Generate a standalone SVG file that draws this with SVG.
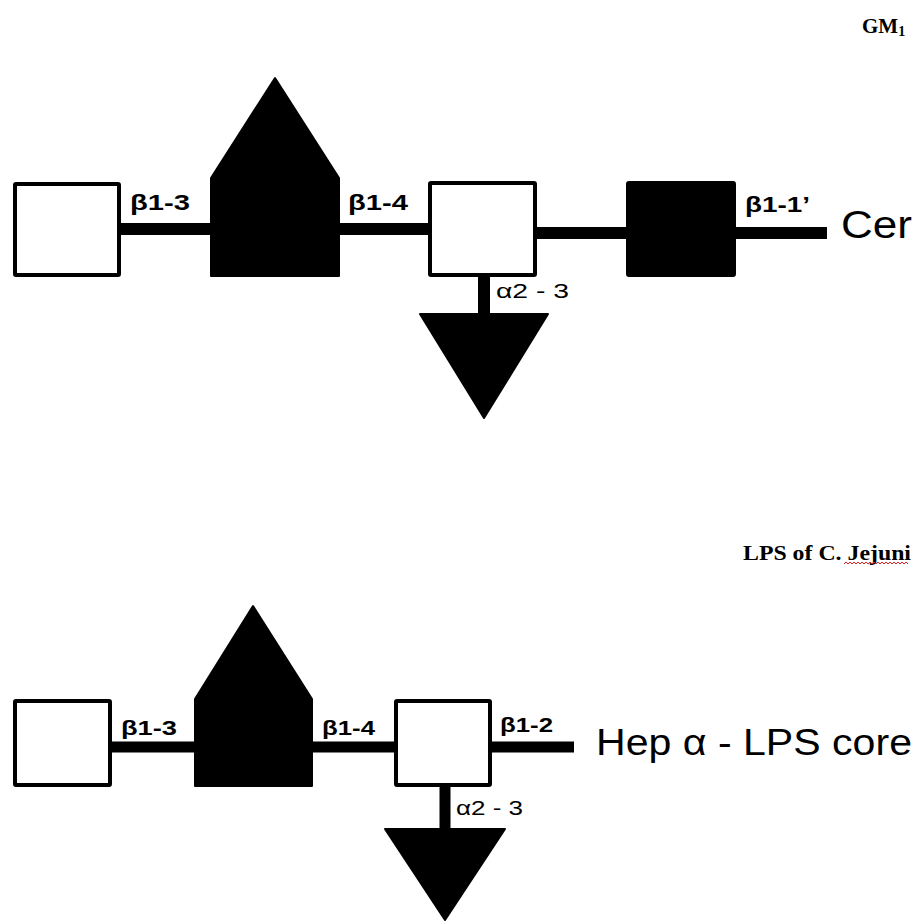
<svg xmlns="http://www.w3.org/2000/svg" width="918" height="922" viewBox="0 0 918 922">
<style>
.w{fill:#fff;stroke:#000;stroke-width:4;stroke-linejoin:round}
.k{fill:#000;stroke:#000;stroke-width:2;stroke-linejoin:round}
.c{stroke:#000;fill:none}
.lb{font-family:"Liberation Sans",Arial,sans-serif;font-weight:bold;fill:#000}
.la{font-family:"Liberation Sans",Arial,sans-serif;fill:#000}
.tt{font-family:"Liberation Serif","Times New Roman",serif;font-weight:bold;fill:#000}
</style>
<rect width="918" height="922" fill="#fff"/>
<g id="connectors">
  <line class="c" stroke-width="12" x1="119" y1="229" x2="212" y2="229"/>
  <line class="c" stroke-width="12" x1="338" y1="229" x2="430" y2="229"/>
  <line class="c" stroke-width="12" x1="535" y1="233" x2="628" y2="233"/>
  <line class="c" stroke-width="12" x1="734" y1="233" x2="827" y2="233"/>
  <line class="c" stroke-width="12" x1="484" y1="275" x2="484" y2="316"/>
  <line class="c" stroke-width="11" x1="110" y1="747" x2="196" y2="747"/>
  <line class="c" stroke-width="11" x1="311" y1="747" x2="396" y2="747"/>
  <line class="c" stroke-width="11" x1="490" y1="747" x2="574" y2="747"/>
  <line class="c" stroke-width="11" x1="445" y1="785" x2="445" y2="830"/>
</g>
<g id="top-title"><text class="tt" x="862" y="33" font-size="21">GM<tspan font-size="14" dy="3">1</tspan></text></g>
<g id="top-sq1"><rect class="w" x="15" y="184" width="104" height="91" rx="1"/></g>
<g id="top-house"><polygon class="k" points="211,178 275,78 339,178 339,276 211,276"/></g>
<g id="top-sq2"><rect class="w" x="430" y="183" width="105" height="92" rx="1"/></g>
<g id="top-blacksq"><rect class="k" x="627" y="182" width="108" height="94" rx="2"/></g>
<g id="top-tri"><polygon class="k" points="420,314 548,314 484,418"/></g>
<g id="top-labels">
  <text class="lb" x="130" y="210" font-size="22" textLength="60" lengthAdjust="spacingAndGlyphs">β1-3</text>
  <text class="lb" x="348" y="210" font-size="22" textLength="60" lengthAdjust="spacingAndGlyphs">β1-4</text>
  <text class="lb" x="745" y="212" font-size="22" textLength="65" lengthAdjust="spacingAndGlyphs">β1-1’</text>
  <text class="la" x="496" y="298" font-size="21" textLength="73" lengthAdjust="spacingAndGlyphs">α2 - 3</text>
  <text class="la" x="841" y="238" font-size="38" textLength="71" lengthAdjust="spacingAndGlyphs">Cer</text>
</g>
<g id="bottom-title">
  <text class="tt" x="743" y="560" font-size="22" textLength="168" lengthAdjust="spacingAndGlyphs">LPS of C. Jejuni</text>
  <path d="M844,564 l2,-2 l2,2 l2,-2 l2,2 l2,-2 l2,2 l2,-2 l2,2 l2,-2 l2,2 l2,-2 l2,2 l2,-2 l2,2 l2,-2 l2,2 l2,-2 l2,2 l2,-2 l2,2 l2,-2 l2,2 l2,-2 l2,2 l2,-2 l2,2 l2,-2 l2,2 l2,-2 l2,2 l2,-2 l2,2" fill="none" stroke="#e02020" stroke-width="1"/>
</g>
<g id="bot-sq1"><rect class="w" x="15" y="701" width="95" height="84" rx="1"/></g>
<g id="bot-house"><polygon class="k" points="195,699 253,606 312,699 312,786 195,786"/></g>
<g id="bot-sq2"><rect class="w" x="396" y="701" width="94" height="84" rx="1"/></g>
<g id="bot-tri"><polygon class="k" points="385,829 505,829 445,920"/></g>
<g id="bottom-labels">
  <text class="lb" x="121" y="735" font-size="20" textLength="56" lengthAdjust="spacingAndGlyphs">β1-3</text>
  <text class="lb" x="322" y="735" font-size="20" textLength="53" lengthAdjust="spacingAndGlyphs">β1-4</text>
  <text class="lb" x="500" y="732" font-size="20" textLength="53" lengthAdjust="spacingAndGlyphs">β1-2</text>
  <text class="la" x="456" y="815" font-size="20" textLength="67" lengthAdjust="spacingAndGlyphs">α2 - 3</text>
  <text class="la" x="596" y="755" font-size="36" textLength="316" lengthAdjust="spacingAndGlyphs">Hep α - LPS core</text>
</g>
</svg>
